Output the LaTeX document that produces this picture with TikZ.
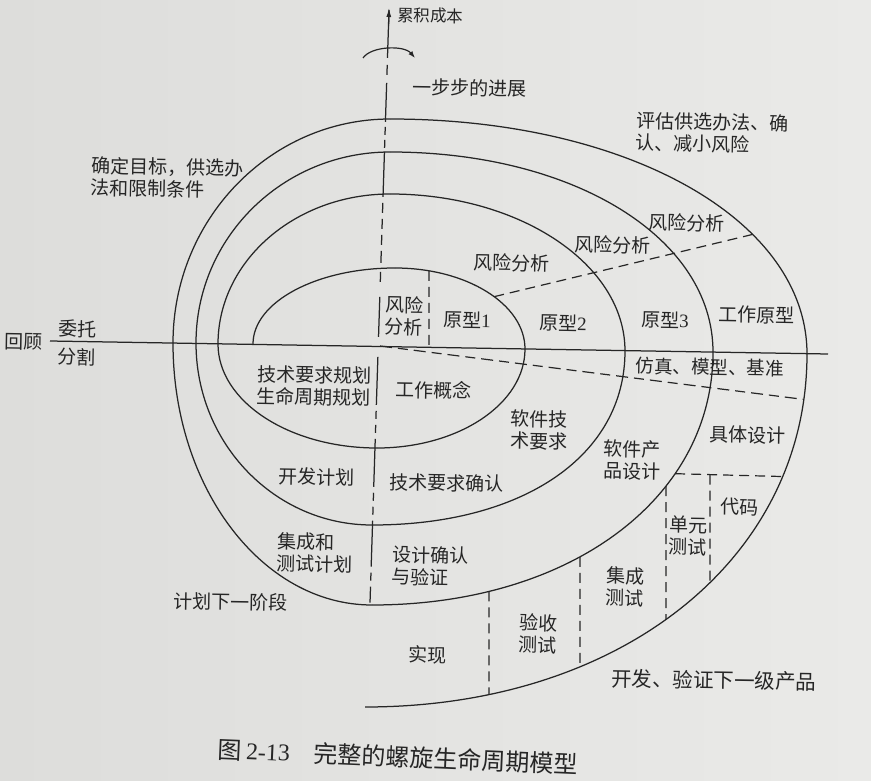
\documentclass[tikz,border=0pt]{standalone}
\usepackage{fontspec}
\setmainfont{Liberation Serif}
\newfontfamily\cjkfont{Noto Sans CJK SC}
\newfontfamily\numfont{Liberation Serif}
\usetikzlibrary{arrows.meta,intersections}
\definecolor{ink}{RGB}{38,38,38}
\definecolor{paperL}{RGB}{221,221,219}
\definecolor{paperR}{RGB}{234,234,232}
\begin{document}
\begin{tikzpicture}[x=1pt,y=-1pt,
  curve/.style={draw=ink,line width=1.25pt},
  dashline/.style={draw=ink,line width=1.2pt,dash pattern=on 10pt off 6pt},
  lbl/.style={font=\cjkfont\fontsize{19}{22}\selectfont,text=ink,inner sep=0pt,align=center,rotate=-1},
  lbll/.style={lbl,align=left}]
% paper
\shade[left color=paperL,right color=paperR] (0,0) rectangle (871,781);
\useasboundingbox (0,0) rectangle (871,781);

% horizontal divider
\coordinate (hl) at (50,341);
\coordinate (hr) at (828,354);
\draw[curve,name path=hline] (hl) -- (hr);

% spiral, one quarter at a time (upper halves, then lower halves)
\draw[curve,name path=A1] (253,344) .. controls (253,302) and (316.6,268) .. (395,268);
\draw[curve,name path=A2] (395,268) .. controls (466.8,268) and (525,304.3) .. (525,349);
\draw[curve,name path=L1r] (525,349) .. controls (525,403.7) and (458.7,448) .. (377,448);
\draw[curve,name path=L1l] (377,448) .. controls (289.2,448) and (218,401.4) .. (218,344);
\draw[curve,name path=B1] (218,344) .. controls (218,261.2) and (295,194) .. (390,194);
\draw[curve,name path=B2] (390,194) .. controls (519.8,194) and (625,264.3) .. (625,351);
\draw[curve,name path=L2r] (625,351) .. controls (625,455.4) and (523.8,525) .. (372,525);
\draw[curve,name path=L2l] (372,525) .. controls (274.8,525) and (196,443.5) .. (196,343);
\draw[curve,name path=C1] (196,343) .. controls (196,237.5) and (282.9,152) .. (390,152);
\draw[curve,name path=C2] (390,152) .. controls (574.1,152) and (713,238) .. (713,352);
\draw[curve,name path=L3r] (713,352) .. controls (713,498.7) and (569.8,605) .. (372,605);
\draw[curve,name path=L3l] (372,605) .. controls (262.1,605) and (173,487.7) .. (173,343);
\draw[curve,name path=D1] (173,343) .. controls (173,219.3) and (270.2,119) .. (390,119);
\draw[curve,name path=D2] (390,119) .. controls (627.7,119) and (807,220) .. (807,354);
\draw[curve,name path=L4] (807,354) .. controls (807,558.7) and (621.4,707) .. (365,707);

% cumulative cost axis
\coordinate (ax0) at (389,10);
\coordinate (ax1) at (370,603);
\draw[curve,dash pattern=on 48pt off 7pt on 10pt off 8pt on 39pt off 5pt on 8pt off 5pt on 8pt off 4pt
  on 45pt off 6pt on 10pt off 6pt on 10pt off 6pt on 10pt off 6pt on 12pt off 9pt on 10pt off 15pt
  on 40pt off 20pt on 48pt off 6pt on 8pt off 6pt on 8pt off 6pt on 48pt off 6pt on 8pt off 6pt
  on 8pt off 6pt on 46pt off 6pt on 8pt off 6pt on 16pt off 100pt] (ax0) -- (ax1);
\coordinate (tipbase) at (388.6,26);
\draw[draw=ink,line width=1.2pt,-{Latex[length=9pt,width=5pt]}] (tipbase) -- (389,8);

% turning arrow
\coordinate (tw0) at (363,58);
\coordinate (tw1) at (415,58);
\draw[draw=ink,line width=1.2pt,-{Latex[length=7pt,width=5pt]}] (tw0) .. controls (371,46) and (404,45) .. (tw1);

% risk-analysis ray (upper right)
\path[name path=rayup] (470,302.5) -- (780,227.8);
\path[name intersections={of=rayup and A2,by={ru1}}];
\path[name intersections={of=rayup and D2,by={ru2}}];
\draw[dashline] (ru1) -- (ru2);

% ray below the divider
\coordinate (o) at (380,346);
\path[name path=raydn] (o) -- (840,404);
\path[name intersections={of=raydn and L4,by={rd2}}];
\draw[dashline,dash pattern=on 12pt off 6pt on 10pt off 6pt] (o) -- (rd2);

% right side of the first risk-analysis box
\path[name path=boxr] (429,250) -- (429,360);
\path[name intersections={of=boxr and A2,by={bx1}}];
\path[name intersections={of=boxr and hline,by={bx2}}];
\draw[dashline] (bx1) -- (bx2);

% code / unit test partition
\path[name path=codeln] (650,473) -- (800,477);
\path[name intersections={of=codeln and L3r,by={cd1}}];
\path[name intersections={of=codeln and L4,by={cd2}}];
\draw[dashline] (cd1) -- (cd2);

\path[name path=v4] (710,460) -- (710,700);
\path[name intersections={of=v4 and codeln,by={v4a}}];
\path[name intersections={of=v4 and L4,by={v4b}}];
\draw[dashline] (v4a) -- (v4b);

\path[name path=v3] (666,450) -- (666,700);
\path[name intersections={of=v3 and L3r,by={v3a}}];
\path[name intersections={of=v3 and L4,by={v3b}}];
\draw[dashline] (v3a) -- (v3b);

\path[name path=v2] (580,520) -- (580,700);
\path[name intersections={of=v2 and L3r,by={v2a}}];
\path[name intersections={of=v2 and L4,by={v2b}}];
\draw[dashline] (v2a) -- (v2b);

\path[name path=v1] (489,560) -- (489,720);
\path[name intersections={of=v1 and L3r,by={v1a}}];
\path[name intersections={of=v1 and L4,by={v1b}}];
\draw[dashline] (v1a) -- (v1b);

% labels
\node[lbl,anchor=west,font=\cjkfont\fontsize{16.5}{20}\selectfont] (cost) at (397,15) {累积成本};
\node[lbl,anchor=west] (steps) at (412,87) {一步步的进展};
\node[lbll] (goals) at (167,178) {确定目标，供选办\\法和限制条件};
\node[lbll] (eval) at (712,133) {评估供选办法、确\\认、减小风险};
\node[lbl] (risk4) at (687,223) {风险分析};
\node[lbl] (risk3) at (613,245) {风险分析};
\node[lbl] (risk2) at (512,263) {风险分析};
\node[lbl] (risk1) at (404,316) {风险\\分析};
\node[lbl] (proto1) at (467,320) {原型{\numfont 1}};
\node[lbl] (proto2) at (563,323) {原型{\numfont 2}};
\node[lbl] (proto3) at (665,320) {原型{\numfont 3}};
\node[lbl] (protow) at (757,315) {工作原型};
\node[lbl] (review) at (24,342) {回顾};
\node[lbl] (commit) at (78,329) {委托};
\node[lbl] (split) at (77,357) {分割};
\node[lbl] (reqplan) at (314,386) {技术要求规划\\生命周期规划};
\node[lbl] (concept) at (434,390) {工作概念};
\node[lbl] (swreq) at (539,430) {软件技\\术要求};
\node[lbl,font=\cjkfont\fontsize{18.5}{22}\selectfont] (sim) at (710,367) {仿真、模型、基准};
\node[lbl] (design) at (632,460) {软件产\\品设计};
\node[lbl] (detail) at (748,435) {具体设计};
\node[lbl] (code) at (740,507) {代码};
\node[lbl] (unit) at (688,536) {单元\\测试};
\node[lbl] (integ) at (625,587) {集成\\测试};
\node[lbl] (accept) at (538,634) {验收\\测试};
\node[lbl] (impl) at (428,655) {实现};
\node[lbl,font=\cjkfont\fontsize{20.5}{24}\selectfont] (devnext) at (714,680) {开发、验证下一级产品};
\node[lbl] (devplan) at (317,477) {开发计划};
\node[lbl] (reqval) at (447,483) {技术要求确认};
\node[lbll] (itplan) at (315,553) {集成和\\测试计划};
\node[lbll] (desval) at (430,566) {设计确认\\与验证};
\node[lbl] (nextph) at (231,602) {计划下一阶段};

% caption
\node[font=\cjkfont\fontsize{24}{28}\selectfont,text=ink,inner sep=0pt,rotate=-2.5] (cap) at (398,757)
  {图\,{\numfont 2-13}\hspace{1em}完整的螺旋生命周期模型};
\end{tikzpicture}
\end{document}
